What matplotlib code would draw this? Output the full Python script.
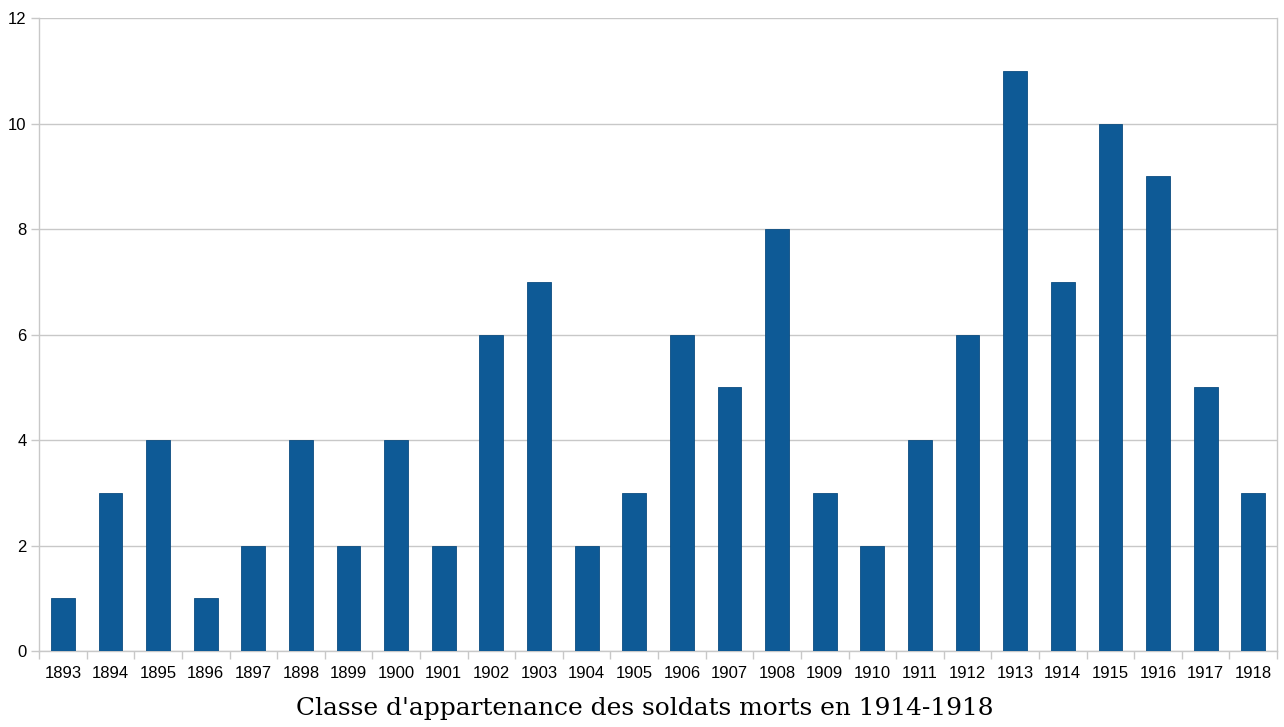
import numpy as np
import matplotlib
matplotlib.use("Agg")
import matplotlib.pyplot as plt

years = [str(y) for y in range(1893, 1919)]
counts = [1, 3, 4, 1, 2, 4, 2, 4, 2, 6, 7, 2, 3, 6, 5, 8, 3, 2, 4, 6, 11, 7, 10, 9, 5, 3]

BAR_COLOR = "#0e5a96"
GRID_COLOR = "#c8c8c8"

fig = plt.figure(figsize=(12.84, 7.27), dpi=100)
ax = fig.add_axes([0.0304, 0.1045, 0.9642, 0.8705])

xs = np.arange(len(years))
ax.bar(xs, counts, width=0.5, color=BAR_COLOR, edgecolor="#0b4c80",
       linewidth=0.6, zorder=3)

ax.set_xlim(-0.5, len(years) - 0.5)
ax.set_ylim(0, 12)
ax.set_yticks(np.arange(0, 13, 2))
ax.grid(axis="y", color=GRID_COLOR, linewidth=1.0, zorder=0)

# libellés centrés sous les barres, graduations entre les classes
ax.set_xticks(xs)
ax.set_xticklabels(years, fontsize=12, family="Liberation Sans")
ax.set_xticks(np.arange(-0.5, len(years), 1.0), minor=True)
ax.tick_params(axis="x", which="major", length=0, pad=11)
ax.tick_params(axis="x", which="minor", length=6, color=GRID_COLOR, width=1)
ax.tick_params(axis="y", length=6, color=GRID_COLOR, width=1, pad=3,
               labelsize=12)
for lab in ax.get_yticklabels():
    lab.set_family("Liberation Sans")

for side in ("left", "bottom", "right"):
    ax.spines[side].set_color(GRID_COLOR)
    ax.spines[side].set_linewidth(1.0)
ax.spines["top"].set_visible(False)

ax.set_xlabel("Classe d'appartenance des soldats morts en 1914-1918",
              fontsize=17.9, family="DejaVu Serif")
ax.xaxis.set_label_coords(0.4895, -0.073)

fig.savefig("out.png", dpi=100)
